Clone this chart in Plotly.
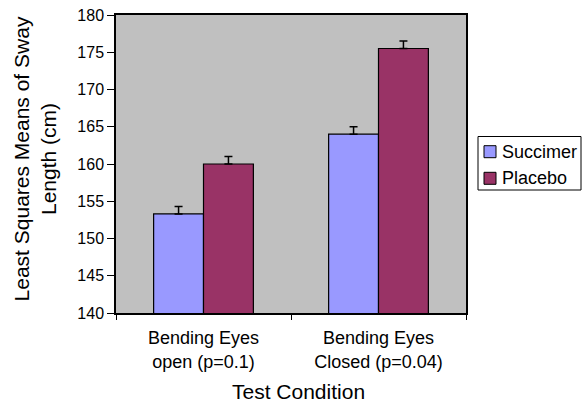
import plotly.graph_objects as go

categories = ["Bending Eyes<br>open (p=0.1)", "Bending Eyes<br>Closed (p=0.04)"]
series_names = ["Succimer", "Placebo"]
succimer_values = [153.3, 164.0]
placebo_values = [160.0, 175.5]
succimer_err = [1.0, 1.0]
placebo_err = [1.0, 1.0]
y_ticks = [140, 145, 150, 155, 160, 165, 170, 175, 180]
y_title = "Least Squares Means of Sway<br>Length (cm)"
x_title = "Test Condition"

colors = ["#9999FF", "#993366"]
FONT = "Liberation Sans, Arial, sans-serif"

W, H = 583, 405
ML, MR, MT, MB = 116, 117, 15, 92
PW, PH = W - ML - MR, H - MT - MB


def px_x(p):
    return (p - ML) / PW


def px_y(p):
    return (H - MB - p) / PH


fig = go.Figure()
for name, vals, errs, col in zip(series_names, [succimer_values, placebo_values],
                                 [succimer_err, placebo_err], colors):
    fig.add_trace(go.Bar(
        name=name, x=categories, y=vals, showlegend=False,
        marker=dict(color=col, line=dict(color="black", width=1.2)),
        error_y=dict(type="data", symmetric=False, array=errs,
                     arrayminus=[0] * len(errs), color="black",
                     thickness=1.5, width=4),
    ))

# legend box (drawn from the series names / colours)
shapes = [dict(type="rect", xref="paper", yref="paper",
               x0=px_x(478), x1=px_x(581), y0=px_y(190), y1=px_y(136.5),
               line=dict(color="black", width=1), fillcolor="white", layer="above")]
annotations = []
row_y = [151.7, 178.3]
for name, col, ry in zip(series_names, colors, row_y):
    shapes.append(dict(type="rect", xref="paper", yref="paper",
                       x0=px_x(484), x1=px_x(496), y0=px_y(ry + 6), y1=px_y(ry - 6),
                       line=dict(color="black", width=1), fillcolor=col, layer="above"))
    annotations.append(dict(text=name, xref="paper", yref="paper", x=px_x(500),
                            y=px_y(ry), xanchor="left", yanchor="middle",
                            showarrow=False, font=dict(size=18, family=FONT)))

annotations += [
    dict(text=y_title, xref="paper", yref="paper", x=-0.232, y=0.518,
         xanchor="center", yanchor="middle", textangle=-90,
         showarrow=False, font=dict(size=21, family=FONT)),
    dict(text=x_title, xref="paper", yref="paper", x=0.52, y=-0.265,
         xanchor="center", yanchor="middle", showarrow=False,
         font=dict(size=21, family=FONT)),
]

fig.update_layout(
    width=W, height=H,
    margin=dict(l=ML, r=MR, t=MT, b=MB, autoexpand=False),
    paper_bgcolor="white", plot_bgcolor="#C0C0C0",
    barmode="group", bargap=0.43, bargroupgap=0,
    font=dict(family=FONT, color="black"),
    showlegend=False,
    xaxis=dict(type="category", tickson="boundaries", ticks="outside",
               ticklen=5, tickcolor="black", showline=True, linecolor="black",
               linewidth=1.5, mirror=True, tickfont=dict(size=18, family=FONT),
               ticklabelstandoff=8, showgrid=False),
    yaxis=dict(range=[140, 180], tickvals=y_ticks, ticks="outside", ticklen=7,
               tickcolor="black", showline=True, linecolor="black",
               linewidth=1.5, mirror=True, showgrid=False, zeroline=False,
               tickfont=dict(size=16, family=FONT)),
    shapes=shapes,
    annotations=annotations,
)

fig.write_html("out.html")
